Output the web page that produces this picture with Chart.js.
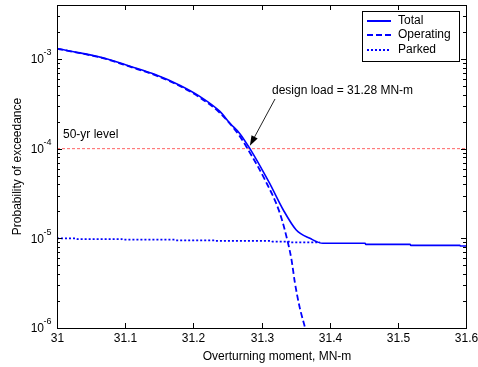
<!DOCTYPE html>
<html>
<head>
<meta charset="utf-8">
<script src="https://cdn.jsdelivr.net/npm/chart.js@4/dist/chart.umd.min.js"></script>
<style>
  body { margin: 0; background: #fff; }
</style>
</head>
<body>
<canvas id="myChart" width="478" height="367"></canvas>
<script>
// values
var totalX = [31.000, 31.034, 31.070, 31.107, 31.144, 31.180, 31.210, 31.239, 31.254, 31.268, 31.283, 31.300, 31.312, 31.332, 31.351, 31.371, 31.390, 31.452, 31.453, 31.518, 31.519, 31.591, 31.592, 31.600];
var totalY = [1.31e-3, 1.17e-3, 1.02e-3, 8.3e-4, 6.7e-4, 5.1e-4, 3.8e-4, 2.6e-4, 1.91e-4, 1.48e-4, 1.0e-4, 6.0e-5, 4.1e-5, 2.07e-5, 1.24e-5, 1.0e-5, 8.8e-6, 8.8e-6, 8.57e-6, 8.57e-6, 8.35e-6, 8.35e-6, 8.2e-6, 8.2e-6];

var operX = [31.000, 31.034, 31.070, 31.107, 31.144, 31.180, 31.210, 31.239, 31.268, 31.283, 31.305, 31.327, 31.339, 31.344, 31.349, 31.356, 31.364, 31.367];
var operY = [1.30e-3, 1.16e-3, 1.01e-3, 8.2e-4, 6.6e-4, 5.0e-4, 3.7e-4, 2.5e-4, 1.38e-4, 9.0e-5, 4.5e-5, 1.9e-5, 8.8e-6, 5.8e-6, 3.2e-6, 1.7e-6, 1.0e-6, 8e-7];

var parkX = [31.000, 31.029, 31.030, 31.095, 31.096, 31.173, 31.174, 31.232, 31.233, 31.315, 31.316, 31.342, 31.343, 31.386];
var parkY = [1.0e-5, 1.0e-5, 9.8e-6, 9.8e-6, 9.65e-6, 9.65e-6, 9.5e-6, 9.5e-6, 9.35e-6, 9.35e-6, 9.2e-6, 9.2e-6, 9.0e-6, 9.0e-6];

var levelY = 1e-4;          // 50-yr level
var designX = 31.28;        // design load
var xTicks = [31, 31.1, 31.2, 31.3, 31.4, 31.5, 31.6];
var xTickLabels = ["31", "31.1", "31.2", "31.3", "31.4", "31.5", "31.6"];
var yDecades = [-6, -5, -4, -3];

function pts(xs, ys) {
    var out = [];
    for (var i = 0; i < xs.length; i++) out.push({x: xs[i], y: ys[i]});
    return out;
}

var FONT = '"Liberation Sans", Arial, sans-serif';

var axesPlugin = {
    id: 'matlabAxes',
    afterDatasetsDraw: function(chart) {
        var ctx = chart.ctx;
        var a = chart.chartArea;
        var xs = chart.scales.x, ys = chart.scales.y;
        ctx.save();
        ctx.strokeStyle = '#000';
        ctx.fillStyle = '#000';
        ctx.lineWidth = 1;

        // box
        ctx.strokeRect(Math.round(a.left) + 0.5, Math.round(a.top) + 0.5,
                       Math.round(a.right - a.left), Math.round(a.bottom - a.top));

        // x ticks
        ctx.font = '12px ' + FONT;
        ctx.textAlign = 'center';
        ctx.textBaseline = 'top';
        xTicks.forEach(function(v, i) {
            var px = Math.round(xs.getPixelForValue(v)) + 0.5;
            ctx.beginPath();
            ctx.moveTo(px, a.bottom); ctx.lineTo(px, a.bottom - 5);
            ctx.moveTo(px, a.top); ctx.lineTo(px, a.top + 5);
            ctx.stroke();
            ctx.fillText(xTickLabels[i], px, a.bottom + 5);
        });

        // y ticks (log)
        for (var d = -6; d <= -3; d++) {
            for (var m = 1; m <= 9; m++) {
                var v = m * Math.pow(10, d);
                if (v < ys.min || v > ys.max) continue;
                var py = Math.round(ys.getPixelForValue(v)) + 0.5;
                var len = m === 1 ? 5 : 3;
                ctx.beginPath();
                ctx.moveTo(a.left, py); ctx.lineTo(a.left + len, py);
                ctx.moveTo(a.right, py); ctx.lineTo(a.right - len, py);
                ctx.stroke();
            }
        }
        yDecades.forEach(function(d) {
            var py = ys.getPixelForValue(Math.pow(10, d));
            ctx.font = '12px ' + FONT;
            ctx.textAlign = 'right';
            ctx.textBaseline = 'middle';
            ctx.fillText('10', 44, py + 1);
            ctx.font = '9px ' + FONT;
            ctx.textAlign = 'left';
            ctx.fillText(String(d), 43.5, py - 6);
        });

        // axis titles
        ctx.font = '12px ' + FONT;
        ctx.textAlign = 'center';
        ctx.textBaseline = 'alphabetic';
        ctx.fillText('Overturning moment, MN-m', 277, 360);
        ctx.save();
        ctx.translate(21, (a.top + a.bottom) / 2);
        ctx.rotate(-Math.PI / 2);
        ctx.fillText('Probability of exceedance', 0, 0);
        ctx.restore();

        // annotations
        ctx.textAlign = 'left';
        ctx.fillStyle = '#000';
        ctx.fillText('50-yr level', 63, 138);
        ctx.fillText('design load = 31.28 MN-m', 272, 94);
        var tx = xs.getPixelForValue(designX) + 2, ty = ys.getPixelForValue(levelY) - 3;
        var sx = 275, sy = 99;
        var ang = Math.atan2(ty - sy, tx - sx);
        ctx.strokeStyle = '#222';
        ctx.beginPath();
        ctx.moveTo(sx, sy); ctx.lineTo(tx - 8 * Math.cos(ang), ty - 8 * Math.sin(ang));
        ctx.stroke();
        ctx.fillStyle = '#000';
        ctx.beginPath();
        ctx.moveTo(tx, ty);
        ctx.lineTo(tx - 10 * Math.cos(ang) + 3.5 * Math.sin(ang), ty - 10 * Math.sin(ang) - 3.5 * Math.cos(ang));
        ctx.lineTo(tx - 10 * Math.cos(ang) - 3.5 * Math.sin(ang), ty - 10 * Math.sin(ang) + 3.5 * Math.cos(ang));
        ctx.closePath();
        ctx.fill();

        // legend
        var lx = 362, ly = 11, lw = 97, lh = 50;
        ctx.fillStyle = '#fff';
        ctx.fillRect(lx, ly, lw, lh);
        ctx.strokeStyle = '#000';
        ctx.strokeRect(lx + 0.5, ly + 0.5, lw, lh);
        ctx.font = '12px ' + FONT;
        ctx.textBaseline = 'middle';
        var rows = [21, 35, 50];
        for (var k = 0; k < 3; k++) {
            var ds = chart.data.datasets[k];
            ctx.strokeStyle = ds.borderColor;
            ctx.lineWidth = 2;
            ctx.setLineDash(ds.borderDash || []);
            ctx.beginPath();
            ctx.moveTo(367, rows[k]); ctx.lineTo(391, rows[k]);
            ctx.stroke();
            ctx.setLineDash([]);
            ctx.fillStyle = '#000';
            ctx.fillText(ds.label, 398, rows[k]);
        }
        ctx.restore();
    }
};

var ctx = document.getElementById("myChart");
var myChart = new Chart(ctx, {
    type: 'line',
    data: {
        datasets: [{
            label: 'Total',
            data: pts(totalX, totalY),
            borderColor: '#0000ff',
            borderWidth: 1.6,
            cubicInterpolationMode: 'monotone',
            pointRadius: 0,
            clip: 0
        }, {
            label: 'Operating',
            data: pts(operX, operY),
            borderColor: '#0000ff',
            borderWidth: 1.8,
            borderDash: [6, 3],
            cubicInterpolationMode: 'monotone',
            pointRadius: 0,
            clip: 0
        }, {
            label: 'Parked',
            data: pts(parkX, parkY),
            borderColor: '#0000ff',
            borderWidth: 1.8,
            borderDash: [2, 2],
            pointRadius: 0,
            clip: 0
        }, {
            label: '50-yr level',
            data: [{x: 31, y: levelY}, {x: 31.6, y: levelY}],
            borderColor: '#ff6464',
            borderWidth: 1,
            borderDash: [3, 2],
            pointRadius: 0,
            clip: 0
        }]
    },
    options: {
        responsive: false,
        animation: false,
        layout: { padding: { left: 57, right: 12, top: 5, bottom: 39 } },
        plugins: { legend: { display: false }, tooltip: { enabled: false } },
        scales: {
            x: { type: 'linear', min: 31, max: 31.6, display: false },
            y: { type: 'logarithmic', min: 1e-6, max: 4e-3, display: false }
        }
    },
    plugins: [axesPlugin]
});
</script>
</body>
</html>
